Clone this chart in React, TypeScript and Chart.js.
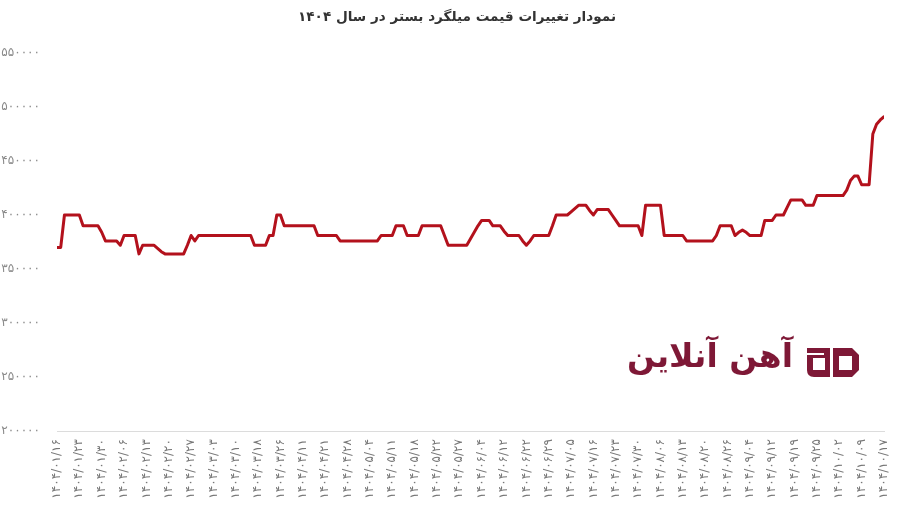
import React, { useEffect, useRef } from "react";
import { Chart, registerables } from "chart.js";

Chart.register(...registerables);

const TITLE = "نمودار تغییرات قیمت میلگرد بستر در سال ۱۴۰۴";
const LOGO_TEXT = "آهن آنلاین";

// Tick labels shown on the x axis (one every 6 trading days)
const xTickLabels = [
  "۱۴۰۴/۰۱/۱۶", "۱۴۰۴/۰۱/۲۳", "۱۴۰۴/۰۱/۳۰", "۱۴۰۴/۰۲/۰۶", "۱۴۰۴/۰۲/۱۳",
  "۱۴۰۴/۰۲/۲۰", "۱۴۰۴/۰۲/۲۷", "۱۴۰۴/۰۳/۰۳", "۱۴۰۴/۰۳/۱۰", "۱۴۰۴/۰۳/۱۸",
  "۱۴۰۴/۰۳/۲۶", "۱۴۰۴/۰۴/۱۱", "۱۴۰۴/۰۴/۲۱", "۱۴۰۴/۰۴/۲۸", "۱۴۰۴/۰۵/۰۴",
  "۱۴۰۴/۰۵/۱۱", "۱۴۰۴/۰۵/۱۸", "۱۴۰۴/۰۵/۲۲", "۱۴۰۴/۰۵/۲۷", "۱۴۰۴/۰۶/۰۴",
  "۱۴۰۴/۰۶/۱۲", "۱۴۰۴/۰۶/۲۲", "۱۴۰۴/۰۶/۲۹", "۱۴۰۴/۰۷/۰۵", "۱۴۰۴/۰۷/۱۶",
  "۱۴۰۴/۰۷/۲۳", "۱۴۰۴/۰۷/۳۰", "۱۴۰۴/۰۸/۰۶", "۱۴۰۴/۰۸/۱۳", "۱۴۰۴/۰۸/۲۰",
  "۱۴۰۴/۰۸/۲۶", "۱۴۰۴/۰۹/۰۴", "۱۴۰۴/۰۹/۱۲", "۱۴۰۴/۰۹/۱۹", "۱۴۰۴/۰۹/۲۵",
  "۱۴۰۴/۱۰/۰۲", "۱۴۰۴/۱۰/۰۹", "۱۴۰۴/۱۰/۱۷",
];
const TICK_EVERY = 6;

// Daily price (Toman / kg)
const prices = [
  370000, 370000, 400000, 400000, 400000, 400000, 400000, 390000, 390000, 390000,
  390000, 390000, 384000, 376000, 376000, 376000, 376000, 372000, 381000, 381000,
  381000, 381000, 364000, 372000, 372000, 372000, 372000, 369000, 366000, 364000,
  364000, 364000, 364000, 364000, 364000, 372000, 381000, 376000, 381000, 381000,
  381000, 381000, 381000, 381000, 381000, 381000, 381000, 381000, 381000, 381000,
  381000, 381000, 381000, 372000, 372000, 372000, 372000, 381000, 381000, 400000,
  400000, 390000, 390000, 390000, 390000, 390000, 390000, 390000, 390000, 390000,
  381000, 381000, 381000, 381000, 381000, 381000, 376000, 376000, 376000, 376000,
  376000, 376000, 376000, 376000, 376000, 376000, 376000, 381000, 381000, 381000,
  381000, 390000, 390000, 390000, 381000, 381000, 381000, 381000, 390000, 390000,
  390000, 390000, 390000, 390000, 381000, 372000, 372000, 372000, 372000, 372000,
  372000, 378000, 384000, 390000, 395000, 395000, 395000, 390000, 390000, 390000,
  385000, 381000, 381000, 381000, 381000, 376000, 372000, 376000, 381000, 381000,
  381000, 381000, 381000, 390000, 400000, 400000, 400000, 400000, 403000, 406000,
  409000, 409000, 409000, 404000, 400000, 405000, 405000, 405000, 405000, 400000,
  395000, 390000, 390000, 390000, 390000, 390000, 390000, 381000, 409000, 409000,
  409000, 409000, 409000, 381000, 381000, 381000, 381000, 381000, 381000, 376000,
  376000, 376000, 376000, 376000, 376000, 376000, 376000, 381000, 390000, 390000,
  390000, 390000, 381000, 384000, 386000, 384000, 381000, 381000, 381000, 381000,
  395000, 395000, 395000, 400000, 400000, 400000, 407000, 414000, 414000, 414000,
  414000, 409000, 409000, 409000, 418000, 418000, 418000, 418000, 418000, 418000,
  418000, 418000, 423000, 432000, 436000, 436000, 428000, 428000, 428000, 475000,
  484000, 488000, 491000,
];

const Y_MIN = 200000;
const Y_MAX = 550000;
const Y_STEP = 50000;

const FA_DIGITS = "۰۱۲۳۴۵۶۷۸۹";
const toFa = (v: number | string) =>
  String(v).replace(/\d/g, (d) => FA_DIGITS[Number(d)]);

const titlePlugin = {
  id: "centeredTitle",
  afterDraw(chart: any) {
    const ctx = chart.ctx as CanvasRenderingContext2D;
    ctx.save();
    ctx.fillStyle = "#333333";
    ctx.font = 'bold 13.6px "DejaVu Sans", sans-serif';
    ctx.textAlign = "center";
    ctx.textBaseline = "middle";
    ctx.direction = "rtl";
    ctx.fillText(TITLE, 457, 17);
    ctx.restore();
  },
};

const logoPlugin = {
  id: "logoWatermark",
  afterDraw(chart: any) {
    const ctx = chart.ctx as CanvasRenderingContext2D;
    ctx.save();
    const color = "#7e1836";
    ctx.fillStyle = color;
    ctx.font = 'bold 30px "DejaVu Sans"';
    const w = ctx.measureText(LOGO_TEXT).width;
    const size = Math.min(40, (30 * 166) / w);
    ctx.font = `bold ${size}px "DejaVu Sans"`;
    ctx.textAlign = "right";
    ctx.textBaseline = "alphabetic";
    ctx.direction = "rtl";
    ctx.fillText(LOGO_TEXT, 793, 367);
    // emblem: left glyph
    ctx.beginPath();
    ctx.moveTo(807, 348);
    ctx.lineTo(830, 348);
    ctx.lineTo(830, 377);
    ctx.lineTo(814, 377);
    ctx.quadraticCurveTo(807, 377, 807, 370);
    ctx.closePath();
    ctx.fill();
    ctx.fillStyle = "#ffffff";
    ctx.fillRect(813, 358, 12, 12);
    ctx.fillRect(807, 353, 17, 2);
    // emblem: right glyph
    ctx.fillStyle = color;
    ctx.beginPath();
    ctx.moveTo(833, 348);
    ctx.lineTo(852, 348);
    ctx.lineTo(859, 355);
    ctx.lineTo(859, 370);
    ctx.lineTo(852, 377);
    ctx.lineTo(833, 377);
    ctx.closePath();
    ctx.fill();
    ctx.fillStyle = "#ffffff";
    ctx.fillRect(839, 356, 13, 14);
    ctx.restore();
  },
};

export default function App() {
  const canvasRef = useRef<HTMLCanvasElement | null>(null);

  useEffect(() => {
    document.body.style.margin = "0";
    const canvas = canvasRef.current;
    if (!canvas) return;
    const chart = new Chart(canvas, {
      type: "line",
      data: {
        datasets: [
          {
            data: prices.map((v, i) => ({ x: i, y: v })),
            borderColor: "#b3111c",
            backgroundColor: "#b3111c",
            borderWidth: 3,
            pointRadius: 0,
            tension: 0,
            borderJoinStyle: "round",
            borderCapStyle: "round",
            fill: false,
          },
        ],
      },
      options: {
        animation: false,
        responsive: true,
        maintainAspectRatio: false,
        layout: { padding: { left: 0, right: 15, top: 53, bottom: 0 } },
        plugins: {
          legend: { display: false },
          tooltip: { enabled: false },
          title: { display: false },
        },
        scales: {
          x: {
            type: "linear",
            min: 0,
            max: prices.length - 1,
            grid: { display: false, drawTicks: false },
            border: { display: true, color: "#dcdcdc", width: 1 },
            ticks: {
              stepSize: TICK_EVERY,
              autoSkip: false,
              maxRotation: 90,
              minRotation: 90,
              padding: 8,
              color: "#777777",
              font: { family: '"DejaVu Sans", sans-serif', size: 12 },
              callback: (v: any) => {
                const idx = Number(v) / TICK_EVERY;
                return Number.isInteger(idx) ? xTickLabels[idx] ?? "" : "";
              },
            },
            afterFit: (s: any) => {
              s.height = 81;
              s.paddingLeft = 0;
              s.paddingRight = 0;
            },
          },
          y: {
            min: Y_MIN,
            max: Y_MAX,
            grid: { display: false, drawTicks: false },
            border: { display: false },
            ticks: {
              stepSize: Y_STEP,
              padding: 17,
              color: "#8a8a8a",
              font: { family: '"DejaVu Sans", sans-serif', size: 12 },
              callback: (v: any) => toFa(v),
            },
            afterFit: (s: any) => {
              s.width = 57;
              s.paddingTop = 0;
              s.paddingBottom = 0;
            },
          },
        },
      },
      plugins: [titlePlugin, logoPlugin],
    });
    return () => chart.destroy();
  }, []);

  return (
    <div style={{ width: 899, height: 512, position: "relative" }}>
      <canvas ref={canvasRef} />
    </div>
  );
}
